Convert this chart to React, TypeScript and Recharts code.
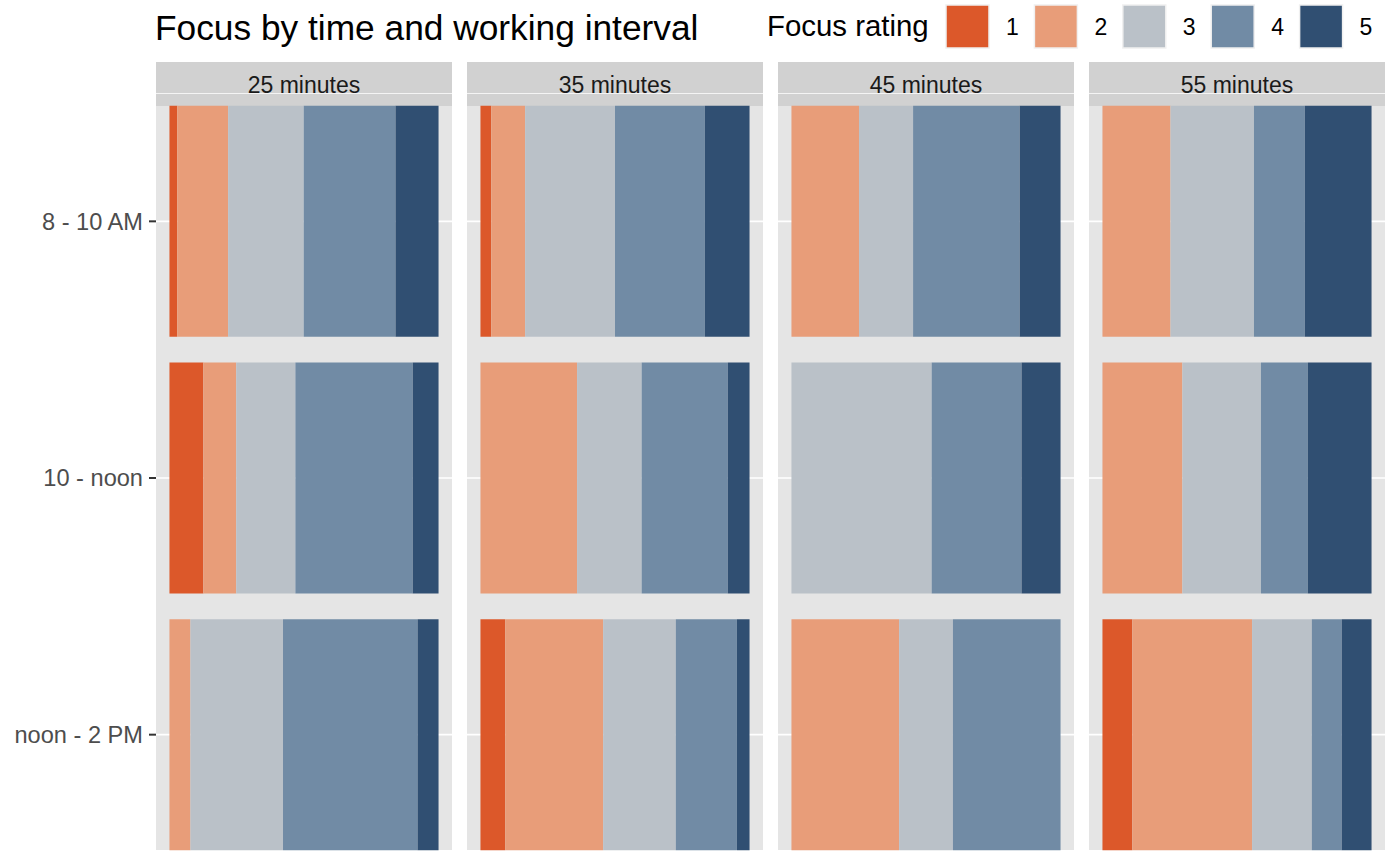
import React from "react";
import { BarChart, Bar, XAxis, YAxis, CartesianGrid } from "recharts";

const timeSlots = ["8 - 10 AM", "10 - noon", "noon - 2 PM"];
const intervals = ["25 minutes", "35 minutes", "45 minutes", "55 minutes"];
const ratings = ["1", "2", "3", "4", "5"];
const ratingColors = ["#DC582A", "#E89D79", "#BAC1C8", "#718BA5", "#304F72"];

// percentage share of each focus rating (1..5), one row per time slot
const share25: number[][] = [
  [2.9, 18.9, 28.1, 34.1, 16.0],
  [12.6, 12.2, 22.0, 43.6, 9.6],
  [0, 7.8, 34.4, 50.0, 7.8],
];
const share35: number[][] = [
  [4.0, 12.6, 33.4, 33.4, 16.6],
  [0, 35.9, 24.0, 32.0, 8.1],
  [9.2, 36.4, 27.0, 22.7, 4.7],
];
const share45: number[][] = [
  [0, 25.1, 20.1, 39.6, 15.2],
  [0, 0, 52.1, 33.4, 14.5],
  [0, 40.0, 20.0, 40.0, 0],
];
const share55: number[][] = [
  [0, 25.3, 31.0, 18.9, 24.8],
  [0, 29.7, 29.2, 17.4, 23.7],
  [11.1, 44.5, 22.2, 11.1, 11.1],
];
const shares = [share25, share35, share45, share55];

const FONT = '"Liberation Sans", Arial, Helvetica, sans-serif';
const PANEL_LEFT = [156, 467, 778, 1089];
const PANEL_W = 296;
const PANEL_TOP = 106;
const PANEL_BOTTOM = 850;
const STRIP_TOP = 62;
const CHART_TOP = 93;
const CHART_H = 770;
const Y_AXIS_W = 156;

function buildRows(share: number[][]) {
  return timeSlots.map((slot, j) => {
    const row: Record<string, string | number> = { slot };
    ratings.forEach((r, k) => {
      row["r" + r] = share[j][k];
    });
    return row;
  });
}

function Panel({ idx }: { idx: number }) {
  const first = idx === 0;
  const rows = buildRows(shares[idx]);
  const left = first ? 0 : PANEL_LEFT[idx];
  const width = first ? PANEL_LEFT[0] + PANEL_W : PANEL_W;
  return (
    <div style={{ position: "absolute", left, top: CHART_TOP, width, height: CHART_H }}>
      <BarChart
        layout="vertical"
        width={width}
        height={CHART_H}
        data={rows}
        margin={{ top: 0, right: 0, bottom: 0, left: 0 }}
        barCategoryGap="5%"
      >
        <CartesianGrid horizontal={true} vertical={false} stroke="#FFFFFF" strokeWidth={1.6} />
        <XAxis type="number" domain={[-5, 105]} allowDataOverflow hide />
        {first ? (
          <YAxis
            type="category"
            dataKey="slot"
            width={Y_AXIS_W}
            interval={0}
            axisLine={false}
            tickSize={7}
            tickMargin={6}
            tickLine={{ stroke: "#333333", strokeWidth: 2 }}
            tick={{ fontSize: 23.6, fill: "#4D4D4D", fontFamily: FONT }}
          />
        ) : (
          <YAxis type="category" dataKey="slot" hide />
        )}
        {ratings.map((r, k) => (
          <Bar
            key={r}
            dataKey={"r" + r}
            stackId="s"
            fill={ratingColors[k]}
            isAnimationActive={false}
          />
        ))}
      </BarChart>
    </div>
  );
}

export default function App() {
  const keyX0 = 946;
  const keyStep = 88.4;
  return (
    <div
      style={{
        position: "absolute",
        left: 0,
        top: 0,
        width: 1400,
        height: 865,
        background: "#FFFFFF",
        overflow: "hidden",
        fontFamily: FONT,
      }}
    >
      <svg
        width={1400}
        height={865}
        style={{ position: "absolute", left: 0, top: 0 }}
      >
        <text x={155} y={40} fontSize={35.3} fill="#000000" fontFamily={FONT}>
          Focus by time and working interval
        </text>
        <text x={767} y={36} fontSize={29.4} fill="#000000" fontFamily={FONT}>
          Focus rating
        </text>
        {ratings.map((r, k) => (
          <g key={r}>
            <rect
              x={keyX0 + k * keyStep}
              y={5}
              width={43}
              height={43}
              fill={ratingColors[k]}
              stroke="#F0F0F0"
              strokeWidth={1.5}
            />
            <text
              x={keyX0 + k * keyStep + 60}
              y={34.5}
              fontSize={23}
              fill="#000000"
              fontFamily={FONT}
            >
              {r}
            </text>
          </g>
        ))}
        {intervals.map((name, i) => (
          <g key={name}>
            <rect
              x={PANEL_LEFT[i]}
              y={STRIP_TOP}
              width={PANEL_W}
              height={PANEL_TOP - STRIP_TOP}
              fill="#D1D1D1"
            />
            <text
              x={PANEL_LEFT[i] + PANEL_W / 2}
              y={93}
              fontSize={23}
              fill="#1A1A1A"
              textAnchor="middle"
              fontFamily={FONT}
            >
              {name}
            </text>
            <rect
              x={PANEL_LEFT[i]}
              y={PANEL_TOP}
              width={PANEL_W}
              height={PANEL_BOTTOM - PANEL_TOP}
              fill="#E5E5E5"
            />
          </g>
        ))}
      </svg>
      {intervals.map((name, i) => (
        <Panel key={name} idx={i} />
      ))}
    </div>
  );
}
